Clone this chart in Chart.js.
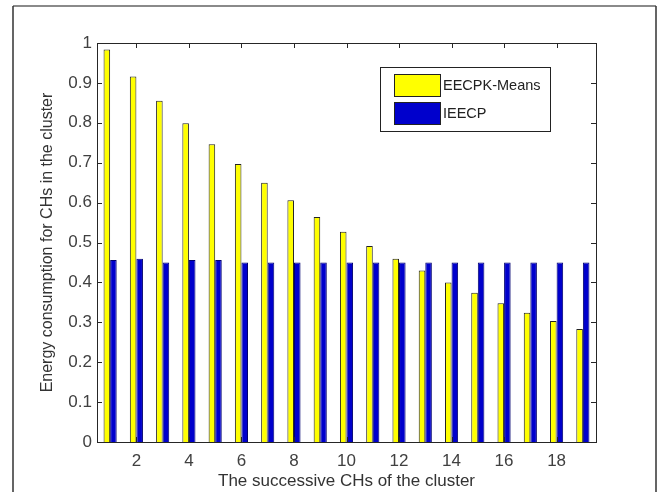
<!DOCTYPE html>
<html>

<head>
    <meta charset="utf-8">
    <title>CH energy consumption</title>
    <script type="text/javascript" src="https://cdn.jsdelivr.net/npm/chart.js@4.4.1/dist/chart.umd.min.js"></script>
    <style>
        body { margin: 0; background: #fff; }
    </style>
</head>

<body>
    <canvas id="chart" width="662" height="492"></canvas>
    <script>
        // successive CHs 1..19
        const categories = ['1', '2', '3', '4', '5', '6', '7', '8', '9', '10', '11', '12', '13', '14', '15', '16', '17', '18', '19']
        const eecpkMeans = [0.984, 0.916, 0.855, 0.799, 0.746, 0.697, 0.650, 0.606, 0.564, 0.527, 0.491, 0.459, 0.430, 0.400, 0.374, 0.348, 0.324, 0.303, 0.283]
        const ieecp = [0.456, 0.459, 0.450, 0.456, 0.456, 0.450, 0.450, 0.450, 0.450, 0.450, 0.450, 0.450, 0.450, 0.450, 0.450, 0.450, 0.450, 0.450, 0.450]
        const xTickLabels = ['2', '4', '6', '8', '10', '12', '14', '16', '18']
        const seriesNames = ['EECPK-Means', 'IEECP']

        const font = 'Liberation Sans, Arial, Helvetica, sans-serif'
        const axisColor = '#262626'

        // page frame, inward ticks, box and legend the way matlab draws them
        const matlabLook = {
            id: 'matlabLook',
            beforeDraw(chart) {
                const ctx = chart.ctx
                ctx.save()
                ctx.fillStyle = '#fff'
                ctx.fillRect(0, 0, chart.width, chart.height)
                ctx.strokeStyle = '#8a8a8a'
                ctx.lineWidth = 2
                ctx.beginPath()
                ctx.moveTo(13, 6); ctx.lineTo(656, 6)
                ctx.stroke()
                ctx.strokeStyle = '#333'
                ctx.lineWidth = 1.5
                ctx.beginPath()
                ctx.moveTo(13, 492); ctx.lineTo(13, 6)
                ctx.moveTo(656, 6); ctx.lineTo(656, 492)
                ctx.stroke()
                ctx.restore()
            },
            afterDraw(chart) {
                const ctx = chart.ctx
                const a = chart.chartArea
                const xs = chart.scales.x
                const ys = chart.scales.y
                ctx.save()
                ctx.strokeStyle = axisColor
                ctx.lineWidth = 1
                ctx.strokeRect(a.left + 0.5, a.top + 0.5, a.right - a.left, a.bottom - a.top)
                ctx.beginPath()
                xTickLabels.forEach((lab) => {
                    const px = Math.round(xs.getPixelForValue(categories.indexOf(lab))) + 0.5
                    ctx.moveTo(px, a.bottom); ctx.lineTo(px, a.bottom - 5)
                    ctx.moveTo(px, a.top); ctx.lineTo(px, a.top + 5)
                })
                ys.ticks.forEach((t) => {
                    const py = Math.round(ys.getPixelForValue(t.value)) + 0.5
                    ctx.moveTo(a.left, py); ctx.lineTo(a.left + 5, py)
                    ctx.moveTo(a.right, py); ctx.lineTo(a.right - 5, py)
                })
                ctx.stroke()

                // legend
                const lx = 380, ly = 67, lw = 170, lh = 64
                ctx.fillStyle = '#fff'
                ctx.fillRect(lx, ly, lw, lh)
                ctx.strokeStyle = '#222'
                ctx.strokeRect(lx + 0.5, ly + 0.5, lw, lh)
                chart.data.datasets.forEach((ds, i) => {
                    const sy = ly + 7 + i * 28
                    ctx.fillStyle = ds.backgroundColor
                    ctx.fillRect(lx + 14, sy, 46, 22)
                    ctx.strokeStyle = '#222'
                    ctx.strokeRect(lx + 14.5, sy + 0.5, 46, 22)
                    ctx.fillStyle = '#222'
                    ctx.font = '14.5px ' + font
                    ctx.textBaseline = 'middle'
                    ctx.fillText(ds.label, lx + 63, sy + 12)
                })
                ctx.restore()
            }
        }

        new Chart(document.getElementById('chart'), {
            type: 'bar',
            data: {
                labels: categories,
                datasets: [
                    { label: seriesNames[0], data: eecpkMeans, backgroundColor: '#ffff00', borderColor: '#222', borderWidth: 1 },
                    { label: seriesNames[1], data: ieecp, backgroundColor: '#0000cc', borderColor: '#00006e', borderWidth: 1 }
                ]
            },
            options: {
                responsive: false,
                animation: false,
                layout: { padding: { top: 43, right: 66, left: 0, bottom: 0 } },
                datasets: { bar: { categoryPercentage: 0.5, barPercentage: 1 } },
                plugins: { legend: { display: false }, tooltip: { enabled: false } },
                scales: {
                    x: {
                        grid: { display: false, drawTicks: false, tickLength: 0 },
                        border: { display: false },
                        ticks: {
                            autoSkip: false, maxRotation: 0, padding: 9, color: '#404040',
                            font: { family: font, size: 17 },
                            callback: (v) => xTickLabels.includes(categories[v]) ? categories[v] : ''
                        },
                        title: {
                            display: true, text: 'The successive CHs of the cluster', color: '#333',
                            font: { family: font, size: 17 }, padding: { top: 0, bottom: 0 }
                        },
                        afterFit: (s) => { s.height = 50 }
                    },
                    y: {
                        min: 0, max: 1,
                        grid: { display: false, drawTicks: false, tickLength: 0 },
                        border: { display: false },
                        ticks: {
                            stepSize: 0.1, padding: 5, color: '#404040',
                            font: { family: font, size: 17 },
                            callback: (v) => String(Math.round(v * 10) / 10)
                        },
                        title: {
                            display: true, text: 'Energy consumption for CHs in the cluster', color: '#333',
                            font: { family: font, size: 16 }, padding: { top: 38, bottom: 0 }
                        },
                        afterFit: (s) => { s.width = 97 }
                    }
                }
            },
            plugins: [matlabLook]
        })
    </script>
</body>

</html>
